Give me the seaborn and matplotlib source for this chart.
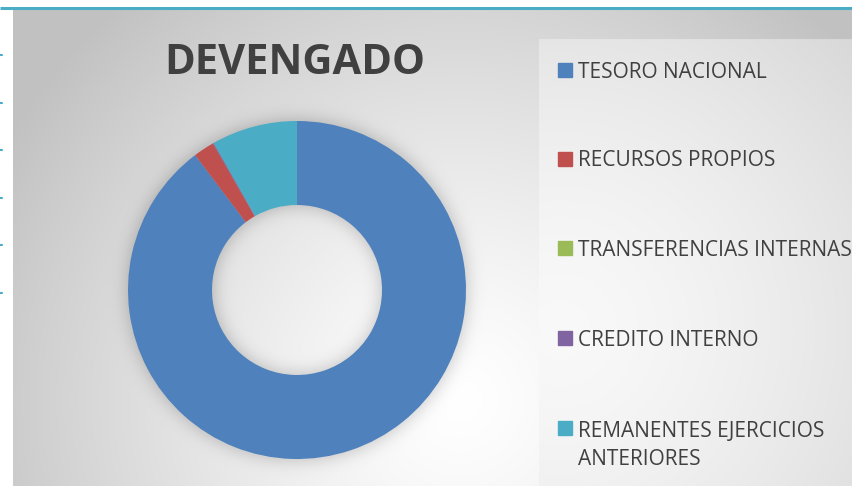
import numpy as np
import matplotlib
matplotlib.use("Agg")
import matplotlib.pyplot as plt
import seaborn as sns
from matplotlib.patches import Rectangle

sns.set_theme(style="white")
plt.rcParams['font.family'] = ['Open Sans', 'DejaVu Sans']

# ── data ──
title = "DEVENGADO"
labels = ["TESORO NACIONAL", "RECURSOS PROPIOS", "TRANSFERENCIAS INTERNAS",
          "CREDITO INTERNO", "REMANENTES EJERCICIOS\nANTERIORES"]
values = [89.7, 2.0, 0.0, 0.1, 8.2]
colors = sns.color_palette(["#4f81bd", "#c0504d", "#9bbb59", "#8064a2", "#4bacc6"])

W, H = 852, 486
fig = plt.figure(figsize=(W / 100, H / 100), dpi=100)
fig.patch.set_facecolor("white")

# ── background: radial gray gradient + donut shadow ──
yy, xx = np.mgrid[0:H, 0:W].astype(float)
cx, cy, R = 297.0, 290.0, 169.0
r_in = 85.0

d = np.hypot(xx - 460, yy - 400) / 520.0
bg = 1.0 - 0.24 * np.clip(d, 0, 1) ** 1.3

# legend panel
panel = (xx >= 539) & (yy >= 40)
dp = np.hypot(xx - 560, (yy - 330) * 1.0) / 420.0
bg = np.where(panel, 0.975 - 0.13 * np.clip(dp, 0, 1) ** 1.5, bg)

# soft shadow around the ring
rr = np.hypot(xx - cx, yy - cy)
ring = ((rr <= R) & (rr >= r_in)).astype(float)


def blur(a, s):
    k = np.exp(-0.5 * (np.arange(-3 * s, 3 * s + 1) / s) ** 2)
    k /= k.sum()
    a = np.apply_along_axis(lambda v: np.convolve(v, k, mode="same"), 0, a)
    a = np.apply_along_axis(lambda v: np.convolve(v, k, mode="same"), 1, a)
    return a


shadow = blur(ring, 9)
bg = bg - 0.22 * shadow * (~panel)
bg = np.clip(bg, 0, 1)

img = np.dstack([bg, bg, bg])
# white left strip and top strip
img[:, :13] = 1.0
img[:10, :] = 1.0

bax = fig.add_axes([0, 0, 1, 1])
bax.imshow(img, extent=(0, W, H, 0), aspect="auto", interpolation="bilinear")
bax.set_xlim(0, W)
bax.set_ylim(H, 0)
bax.axis("off")

# top teal line and small tick marks on the left
bax.plot([0, W], [8, 8], color="#4bacc6", lw=2.2, solid_capstyle="butt")
for ty in [55, 103, 150, 198, 245, 293]:
    bax.plot([0, 2], [ty, ty], color="#4bacc6", lw=1.5)

# ── donut ──
ax = fig.add_axes([(cx - R) / W, (H - cy - R) / H, 2 * R / W, 2 * R / H])
ax.pie(values, colors=colors, startangle=90, counterclock=False, radius=1,
       wedgeprops=dict(width=1 - r_in / R, edgecolor="none", linewidth=0))
ax.set_xlim(-1, 1)
ax.set_ylim(-1, 1)
ax.set_aspect("equal")
ax.axis("off")

# ── title ──
fig.text(295 / W, 1 - 63 / H, title, ha="center", va="center",
         fontsize=30, fontweight="bold", color="#404040")

# ── legend ──
ly = [70, 159, 248, 338, 428]
for lab, col, y in zip(labels, colors, ly):
    fig.patches.append(Rectangle(((558) / W, 1 - (y + 7) / H), 14 / W, 14 / H,
                                 transform=fig.transFigure, color=col))
    ty = y + 2 + (15.5 if "\n" in lab else 0)
    fig.text(578 / W, 1 - ty / H, lab, ha="left", va="center",
             fontsize=15, color="#404040", linespacing=1.4)

fig.savefig("out.png", dpi=100)
